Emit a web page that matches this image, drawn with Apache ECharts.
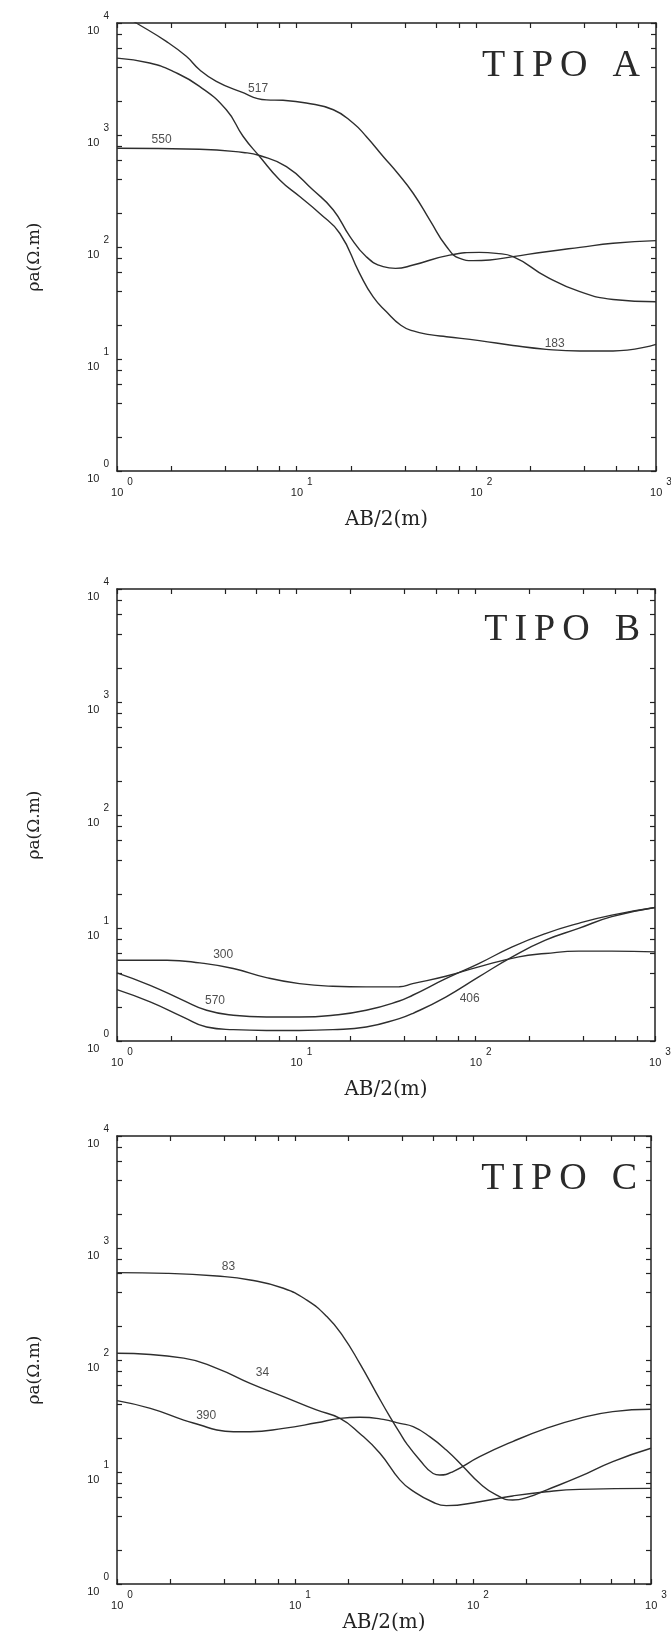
<!DOCTYPE html>
<html><head><meta charset="utf-8">
<script src="https://cdn.jsdelivr.net/npm/echarts@6/dist/echarts.min.js"></script>
<style>html,body{margin:0;padding:0;background:#fff}#c{width:671px;height:1639px}</style>
</head><body><div id="c"></div>
<script>
// ---- axis tick / label values ----
const xTickValues = [1,2,4,6,8,10,20,40,60,80,100,200,400,600,800,1000];
const yTickValues = [1,2,4,6,8,10,20,40,60,80,100,200,400,600,800,1000,2000,4000,6000,8000,10000];
const xLabelValues = [1,10,100,1000];
const yLabelValues = [1,10,100,1000,10000];
const panelTitles = ['TIPO A','TIPO B','TIPO C'];
const xName = 'AB/2(m)';
const yName = 'ρa(Ω.m)';

// ---- TIPO A ----
const abA517 = [1,1.28,1.88,2.43,2.88,3.57,4.82,6.78,8.39,11.3,16.0,20.6,24.4,30.3,36.5,44.5,55.1,68.2,80.9,96,119,160,245,377,577,1000];
const rhoA517 = [12600,10000,6850,5040,3830,3010,2450,2060,2040,1930,1680,1280,970,643,455,302,174,101,79,75.5,76.6,82,90.8,99.3,108,114];
const abA550 = [1,2.88,5.04,6.22,8.77,12.3,16.0,19.8,24.4,30.3,35.5,44.5,71.1,104,129,160,245,377,577,1000];
const rhoA550 = [762,746,698,656,522,324,214,124,82,66.7,64.4,69,84.7,89.5,87.7,82,54.3,39.9,34,32.4];
const abA183 = [1,1.52,2.05,2.88,4.06,5.04,6.22,8.05,10.4,13.4,17.4,22.4,26.6,31.6,38,44.5,55,68.2,104,160,245,377,577,1000];
const rhoA183 = [4860,4390,3700,2720,1680,970,643,397,282,200,132,58.2,36,26.4,20,17.8,16.5,15.8,14.6,13.2,12.2,11.8,11.8,13.5];
const labelsA = [['517',6.1,2590],['550',1.77,905],['183',273,13.8]];

// ---- TIPO B ----
const abB300 = [1,1.90,2.90,4.45,6.81,10.4,16.0,24.5,37.5,44.5,68.1,104,174,245,375,574,1000];
const rhoB300 = [5.19,5.19,4.91,4.38,3.64,3.22,3.05,3.01,3.02,3.22,3.74,4.53,5.55,5.94,6.24,6.24,6.15];
const abB570 = [1,1.53,2.34,3.16,4.45,6.81,10.4,16.0,24.5,37.5,44.5,68.1,104,160,245,375,574,1000];
const rhoB570 = [4.01,3.11,2.29,1.87,1.69,1.63,1.63,1.69,1.87,2.26,2.54,3.56,4.84,6.81,8.93,11.0,13.0,15.2];
const abB406 = [1,1.53,2.34,3.16,4.45,6.81,10.4,16.0,24.5,37.5,44.5,68.1,104,160,245,375,574,1000];
const rhoB406 = [2.85,2.22,1.63,1.33,1.26,1.24,1.24,1.26,1.33,1.58,1.75,2.45,3.69,5.55,7.80,9.91,12.6,15.2];
const labelsB = [['300',3.91,5.82],['570',3.52,2.29],['406',92.6,2.37]];

// ---- TIPO C ----
const abC83 = [1,1.91,3.64,5.60,8.61,11.6,15.1,18.7,23.1,28.7,34.1,38.8,42.3,50.2,59.7,65.0,77.3,109,167,258,396,610,1000];
const rhoC83 = [603,594,562,518,437,344,244,161,93.3,50.4,31.2,22.4,18.0,12.8,9.7,9.4,10.1,13.7,18.7,24.5,30.1,34.6,36.3];
const abC34 = [1,2.37,3.64,5.60,8.61,13.2,17.9,23.1,30.0,38.8,46.1,59.7,70.8,109,167,258,396,1000];
const rhoC34 = [115,104,84.3,61.9,47.1,35.8,30.1,22.1,14.7,8.51,6.76,5.37,5.01,5.43,6.11,6.67,7.0,7.14];
const abC390 = [1,1.54,2.37,2.93,3.64,4.51,5.60,8.61,13.2,17.9,23.1,31.3,38.8,46.1,57.1,70.8,87.9,109,135,167,208,258,396,610,1000];
const rhoC390 = [43.4,37.0,29.1,26.3,23.7,22.9,22.9,24.5,27.5,30.1,30.8,29.5,27.2,25.4,20.7,15.7,11.2,7.93,6.24,5.62,6.03,6.90,9.08,12.4,16.3];
const labelsC = [['83',4.23,681],['34',6.56,77],['390',3.17,31.8]];

const panels = [
  {curves:[[abA517,rhoA517],[abA550,rhoA550],[abA183,rhoA183]], labels:labelsA},
  {curves:[[abB300,rhoB300],[abB570,rhoB570],[abB406,rhoB406]], labels:labelsB},
  {curves:[[abC83,rhoC83],[abC34,rhoC34],[abC390,rhoC390]], labels:labelsC}
];

// ---- layout / style (not data) ----
const gridPx = [
  {left:117, top:23, width:539, height:448, xNameGap:39, titleTop:42, titleRight:26},
  {left:117, top:589, width:538, height:452, xNameGap:39, titleTop:606, titleRight:26},
  {left:117, top:1136, width:534, height:448, xNameGap:29, titleTop:1155, titleRight:29}
];
const INK = '#222';
const exp10 = v => Math.round(Math.log10(v));

const grid = [], xAxis = [], yAxis = [], series = [], title = [];
gridPx.forEach((g, i) => {
  grid.push({left:g.left, top:g.top, width:g.width, height:g.height, containLabel:false, outerBoundsMode:'none'});
  const tick = vals => ({show:true, inside:true, length:5, customValues:vals, lineStyle:{color:INK, width:1.2}});
  const line = {show:true, onZero:false, lineStyle:{color:INK, width:1.5}};
  xAxis.push({
    type:'log', logBase:10, min:1, max:1000, gridIndex:i, position:'bottom',
    axisLine:line, axisTick:tick(xTickValues), splitLine:{show:false},
    axisLabel:{show:true, customValues:xLabelValues, margin:6, color:INK,
      formatter: v => '{b|10}{e|' + exp10(v) + '}',
      rich:{b:{fontFamily:'Liberation Sans', fontSize:11, color:INK, padding:[10,0,0,10]},
            e:{fontFamily:'Liberation Sans', fontSize:10, color:INK, padding:[0,0,10,4]}}},
    name:xName, nameLocation:'middle', nameGap:g.xNameGap,
    nameTextStyle:{fontFamily:'DejaVu Serif', fontSize:20, color:INK}
  });
  xAxis.push({
    type:'log', logBase:10, min:1, max:1000, gridIndex:i, position:'top',
    axisLine:line, axisTick:tick(xTickValues), axisLabel:{show:false}, splitLine:{show:false}
  });
  yAxis.push({
    type:'log', logBase:10, min:1, max:10000, gridIndex:i, position:'left',
    axisLine:line, axisTick:tick(yTickValues), splitLine:{show:false},
    axisLabel:{show:true, customValues:yLabelValues, margin:8, color:INK,
      formatter: v => '{b|10}{e|' + exp10(v) + '}',
      rich:{b:{fontFamily:'Liberation Sans', fontSize:11, color:INK, padding:[16,0,0,0]},
            e:{fontFamily:'Liberation Sans', fontSize:10, color:INK, padding:[0,0,14,4]}}},
    name:yName, nameLocation:'middle', nameGap:74, nameRotate:90,
    nameTextStyle:{fontFamily:'DejaVu Serif', fontSize:17, color:INK, padding:[0,20,0,0]}
  });
  yAxis.push({
    type:'log', logBase:10, min:1, max:10000, gridIndex:i, position:'right',
    axisLine:line, axisTick:tick(yTickValues), axisLabel:{show:false}, splitLine:{show:false}
  });
  panels[i].curves.forEach(([xs, ys]) => {
    series.push({
      type:'line', xAxisIndex:2*i, yAxisIndex:2*i, showSymbol:false, symbol:'none',
      smooth:0.5, clip:true, silent:true,
      lineStyle:{color:'#2e2e2e', width:1.4},
      data: xs.map((x, k) => [x, ys[k]])
    });
  });
  series.push({
    type:'scatter', xAxisIndex:2*i, yAxisIndex:2*i, symbolSize:0, silent:true,
    data: panels[i].labels.map(l => ({name:l[0], value:[l[1], l[2]]})),
    label:{show:true, position:'inside', formatter:'{b}', fontFamily:'Liberation Sans', fontSize:12, color:INK}
  });
  const t = panelTitles[i];
  const letters = t.replace(' ', '').split('');
  const last = letters.pop();
  title.push({
    text: letters.map(c => '{t|' + c + '}').join('') + '{a|' + last + '}',
    right:g.titleRight, top:g.titleTop,
    textStyle:{fontWeight:'normal', rich:{
      t:{fontFamily:'Liberation Serif', fontSize:38, fontWeight:'normal', color:'#2a2a2a', padding:[0,7,0,0]},
      a:{fontFamily:'Liberation Serif', fontSize:38, fontWeight:'normal', color:'#2a2a2a', padding:[0,0,0,18]}
    }}
  });
});

const chart = echarts.init(document.getElementById('c'), null, {renderer:'canvas'});
chart.setOption({
  backgroundColor:'#ffffff', animation:false,
  title, grid, xAxis, yAxis, series
});
</script>
</body></html>
